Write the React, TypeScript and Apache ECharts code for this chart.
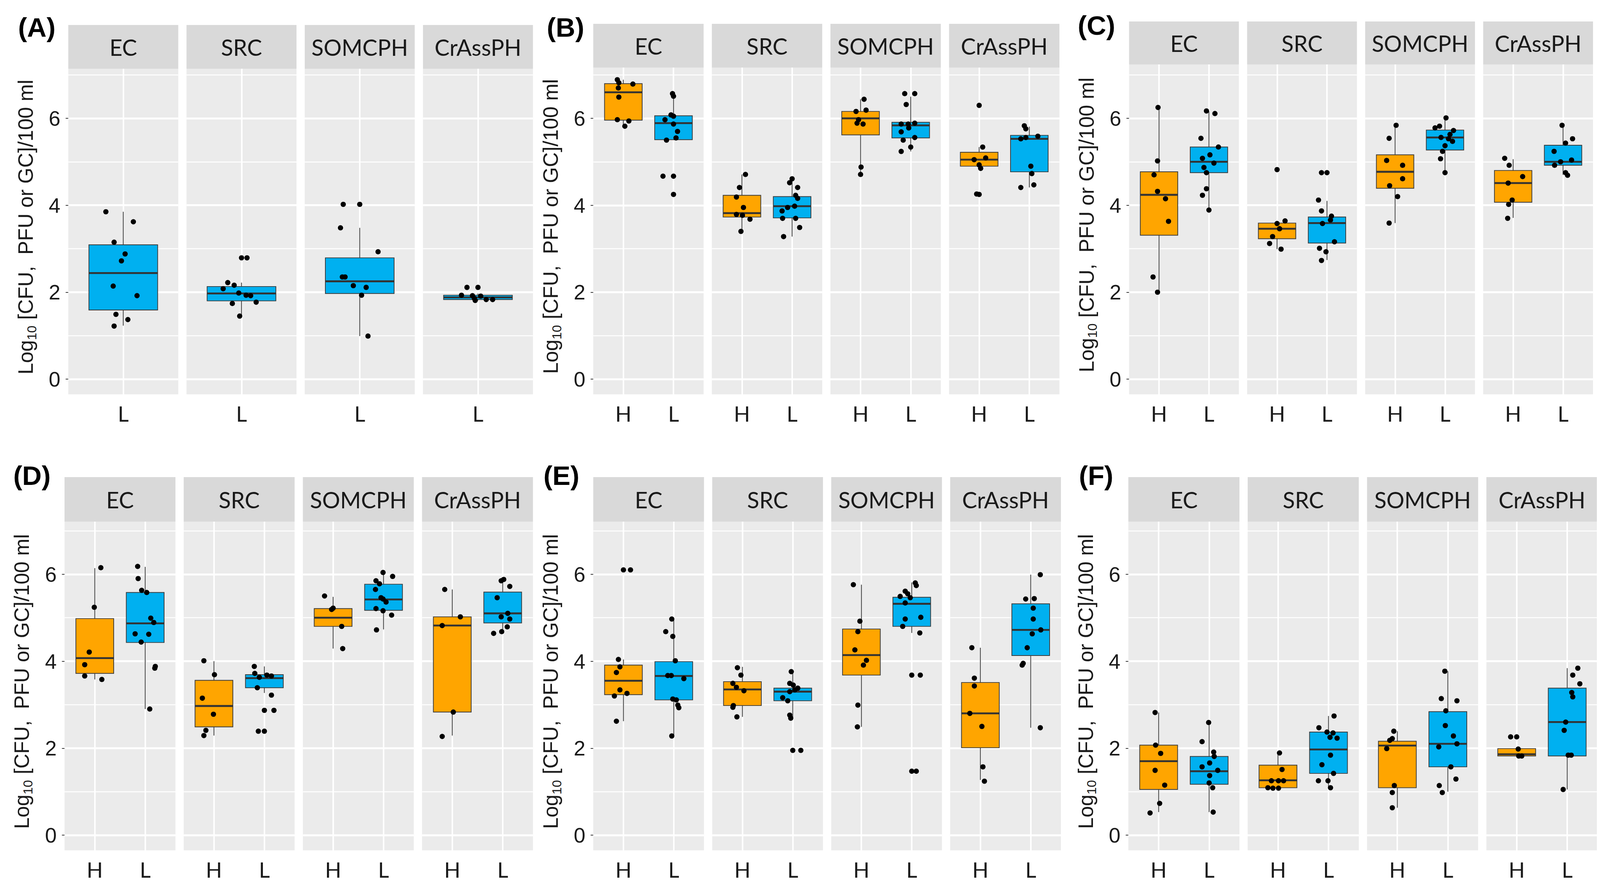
import React, { useEffect, useRef } from 'react';
import * as echarts from 'echarts';

// ---------- categories & ticks ----------
const FACETS = ['EC', 'SRC', 'SOMCPH', 'CrAssPH'];
const GROUPS_ONE = ['L'];
const GROUPS_TWO = ['H', 'L'];
const Y_TICKS = [0, 2, 4, 6];
const PANEL_IDS = ['(A)', '(B)', '(C)', '(D)', '(E)', '(F)'];
const Y_TITLE = '{a|Log}{b|10}{a| [CFU,\u00A0 PFU or GC]/100 ml}';

// ---------- box statistics: per facet, per group: [lower whisker, Q1, median, Q3, upper whisker] ----------
const boxA = [
  [[1.23, 1.59, 2.44, 3.09, 3.85]],
  [[1.44, 1.80, 1.97, 2.13, 2.22]],
  [[0.99, 1.97, 2.25, 2.79, 3.48]],
  [[1.81, 1.83, 1.88, 1.93, 1.97]],
];
const boxB = [
  [[5.82, 5.96, 6.60, 6.80, 6.89], [5.50, 5.51, 5.89, 6.06, 6.57]],
  [[3.40, 3.73, 3.82, 4.23, 4.71], [3.28, 3.71, 3.98, 4.20, 4.61]],
  [[4.71, 5.62, 6.00, 6.16, 6.44], [5.24, 5.55, 5.84, 5.91, 6.50]],
  [[4.85, 4.90, 5.05, 5.22, 5.34], [4.41, 4.77, 5.53, 5.61, 5.81]],
];
const boxC = [
  [[2.00, 3.31, 4.24, 4.77, 6.25], [3.89, 4.75, 5.00, 5.34, 6.16]],
  [[2.99, 3.23, 3.46, 3.59, 3.64], [2.74, 3.13, 3.59, 3.73, 4.10]],
  [[3.59, 4.39, 4.77, 5.16, 5.84], [4.75, 5.27, 5.56, 5.73, 6.03]],
  [[3.71, 4.07, 4.51, 4.80, 5.06], [4.70, 4.92, 5.00, 5.38, 5.84]],
];
const boxD = [
  [[3.58, 3.72, 4.07, 4.98, 6.14], [2.90, 4.43, 4.87, 5.58, 6.17]],
  [[2.29, 2.49, 2.97, 3.56, 4.00], [3.27, 3.39, 3.61, 3.69, 3.88]],
  [[4.29, 4.80, 5.00, 5.21, 5.48], [4.73, 5.17, 5.42, 5.77, 6.03]],
  [[2.29, 2.83, 4.82, 5.02, 5.65], [4.64, 4.88, 5.10, 5.59, 5.92]],
];
const boxE = [
  [[2.62, 3.23, 3.55, 3.91, 4.04], [2.28, 3.11, 3.66, 3.99, 4.97]],
  [[2.72, 2.98, 3.35, 3.53, 3.87], [2.69, 3.09, 3.30, 3.38, 3.77]],
  [[2.49, 3.68, 4.14, 4.74, 5.76], [4.65, 4.80, 5.32, 5.47, 5.81]],
  [[1.27, 2.01, 2.80, 3.51, 4.31], [2.47, 4.13, 4.72, 5.32, 5.99]],
];
const boxF = [
  [[0.53, 1.05, 1.70, 2.07, 2.82], [0.53, 1.17, 1.47, 1.81, 2.59]],
  [[1.08, 1.09, 1.26, 1.61, 1.89], [1.09, 1.42, 1.97, 2.37, 2.74]],
  [[0.63, 1.09, 2.06, 2.16, 2.39], [1.00, 1.57, 2.10, 2.84, 3.77]],
  [[1.82, 1.82, 1.86, 1.99, 1.99], [1.05, 1.82, 2.60, 3.38, 3.84]],
];

// ---------- points: per facet, per group: [horizontal jitter (category units), value] ----------
const ptsA = [
  [[[-0.19, 3.85], [0.11, 3.62], [-0.10, 3.15], [0.02, 2.88], [-0.02, 2.72], [-0.11, 2.14], [0.15, 1.92], [-0.08, 1.49], [0.05, 1.37], [-0.10, 1.22]]],
  [[[0, 2.79], [0.06, 2.79], [-0.15, 2.22], [-0.08, 2.16], [-0.20, 2.08], [-0.03, 1.98], [0.05, 1.93], [0.10, 1.92], [-0.10, 1.74], [0.16, 1.77], [-0.02, 1.45]]],
  [[[-0.18, 4.02], [0, 4.02], [-0.21, 3.48], [0.20, 2.93], [-0.19, 2.35], [-0.16, 2.35], [-0.07, 2.15], [0.07, 2.11], [0.02, 1.93], [0.09, 0.99]]],
  [[[-0.12, 2.11], [0, 2.11], [-0.18, 1.93], [-0.06, 1.92], [-0.04, 1.86], [0.03, 1.91], [-0.03, 1.81], [0.09, 1.83], [0.16, 1.83]]],
];
const ptsB = [
  [
    [[-0.12, 6.89], [-0.09, 6.82], [0.19, 6.79], [-0.10, 6.70], [-0.09, 6.49], [-0.12, 5.97], [0.11, 5.94], [0.03, 5.82]],
    [[-0.02, 6.57], [0, 6.51], [-0.05, 6.08], [0, 6.05], [-0.17, 5.97], [0, 5.87], [0.08, 5.70], [-0.14, 5.50], [0.05, 5.55], [-0.21, 4.67], [0, 4.67], [0, 4.25]],
  ],
  [
    [[0.07, 4.71], [-0.05, 4.41], [-0.11, 4.19], [0.03, 3.95], [-0.11, 3.79], [0.01, 3.77], [0.16, 3.68], [-0.02, 3.40]],
    [[0, 4.61], [-0.05, 4.52], [0.11, 4.41], [0.07, 4.23], [0.11, 4.16], [-0.09, 3.95], [0.05, 3.98], [-0.20, 3.87], [-0.19, 3.70], [0.07, 3.70], [0.15, 3.49], [-0.17, 3.28]],
  ],
  [
    [[0.07, 6.44], [-0.09, 6.16], [0.11, 6.19], [-0.04, 5.97], [0.05, 5.87], [-0.07, 5.89], [0.01, 4.88], [0, 4.71]],
    [[-0.12, 6.57], [0.08, 6.57], [-0.09, 6.32], [-0.19, 5.87], [-0.05, 5.87], [0.08, 5.89], [-0.04, 5.78], [-0.19, 5.69], [0.08, 5.56], [-0.15, 5.50], [0, 5.34], [-0.19, 5.24]],
  ],
  [
    [[0, 6.30], [0.07, 5.34], [-0.10, 5.05], [0.13, 5.09], [0, 4.93], [0.03, 4.85], [-0.05, 4.26], [0, 4.25]],
    [[-0.10, 5.83], [-0.07, 5.76], [-0.17, 5.53], [-0.07, 5.56], [0.17, 5.59], [0.03, 4.90], [0.05, 4.73], [-0.17, 4.41], [0.09, 4.47]],
  ],
];
const ptsC = [
  [
    [[-0.02, 6.25], [-0.03, 5.02], [-0.10, 4.70], [-0.03, 4.32], [0.13, 4.15], [0.19, 3.63], [-0.12, 2.35], [-0.03, 2.00]],
    [[-0.05, 6.17], [0.12, 6.11], [-0.16, 5.54], [0.19, 5.34], [-0.13, 5.08], [0.02, 5.16], [0.10, 4.97], [-0.10, 4.87], [-0.05, 4.75], [-0.05, 4.38], [-0.13, 4.23], [0, 3.89]],
  ],
  [
    [[0, 4.82], [0, 3.58], [0.16, 3.64], [0.05, 3.46], [-0.09, 3.28], [-0.15, 3.12], [0.08, 2.99]],
    [[-0.11, 4.75], [0, 4.75], [-0.17, 4.12], [-0.11, 3.87], [0.09, 3.75], [0.07, 3.66], [-0.09, 3.58], [0.15, 3.16], [-0.15, 3.01], [-0.02, 2.93], [-0.11, 2.73]],
  ],
  [
    [[0.02, 5.84], [-0.12, 5.54], [-0.17, 5.03], [0.15, 4.92], [0.15, 4.61], [-0.11, 4.45], [0.05, 4.20], [-0.12, 3.59]],
    [[0.02, 6.01], [-0.20, 5.78], [-0.11, 5.82], [0.17, 5.72], [0.10, 5.63], [-0.08, 5.56], [0.07, 5.53], [0.15, 5.47], [0, 5.37], [-0.05, 5.24], [-0.09, 5.07], [0, 4.75]],
  ],
  [
    [[-0.17, 5.08], [-0.08, 4.92], [0.19, 4.66], [-0.10, 4.51], [-0.02, 4.12], [-0.09, 4.02], [-0.11, 3.70]],
    [[-0.02, 5.84], [0.19, 5.53], [0.05, 5.43], [-0.18, 5.24], [-0.05, 5.00], [0.17, 5.04], [-0.17, 4.92], [0.05, 4.75], [0.09, 4.69]],
  ],
];
const ptsD = [
  [
    [[0.12, 6.15], [-0.01, 5.24], [-0.11, 4.21], [-0.20, 3.92], [-0.20, 3.66], [0.14, 3.58]],
    [[-0.15, 6.18], [-0.14, 5.90], [-0.07, 5.63], [0.03, 5.58], [0.11, 4.99], [0.17, 4.89], [-0.20, 4.63], [0.07, 4.62], [-0.08, 4.44], [0.20, 3.88], [0.19, 3.84], [0.09, 2.90]],
  ],
  [
    [[-0.20, 4.01], [0.01, 3.69], [-0.23, 3.15], [-0.01, 2.78], [-0.16, 2.41], [-0.20, 2.29]],
    [[-0.20, 3.88], [-0.19, 3.72], [-0.10, 3.63], [0.05, 3.68], [0.14, 3.66], [-0.14, 3.39], [0.14, 3.22], [0, 2.87], [0.19, 2.87], [-0.12, 2.39], [0, 2.39]],
  ],
  [
    [[-0.17, 5.50], [-0.03, 5.19], [0, 5.22], [0.17, 4.80], [0.19, 4.29]],
    [[-0.01, 6.04], [0.18, 5.95], [-0.15, 5.85], [-0.08, 5.78], [-0.16, 5.65], [-0.05, 5.46], [-0.01, 5.43], [0.05, 5.36], [-0.15, 5.21], [-0.01, 5.16], [0.16, 5.06], [-0.14, 4.72]],
  ],
  [
    [[-0.15, 5.65], [0.16, 5.02], [-0.20, 4.82], [0.02, 2.83], [-0.20, 2.27]],
    [[0.02, 5.88], [-0.03, 5.85], [0.14, 5.72], [-0.11, 5.46], [0.10, 5.10], [-0.03, 5.02], [0.14, 4.97], [0.09, 4.79], [-0.18, 4.64], [-0.02, 4.68]],
  ],
];
const ptsE = [
  [
    [[0, 6.10], [0.14, 6.10], [-0.10, 4.04], [-0.07, 3.87], [-0.14, 3.74], [-0.07, 3.34], [0.07, 3.26], [-0.18, 3.20], [-0.14, 2.62]],
    [[-0.04, 4.97], [-0.16, 4.68], [-0.02, 4.57], [0.03, 4.01], [-0.12, 3.67], [-0.05, 3.67], [0.20, 3.60], [-0.02, 3.13], [0.05, 3.11], [0.08, 2.99], [0.10, 2.93], [-0.04, 2.28]],
  ],
  [
    [[-0.10, 3.85], [-0.03, 3.68], [-0.19, 3.49], [-0.12, 3.40], [0.03, 3.32], [-0.18, 2.98], [-0.19, 2.94], [-0.11, 2.72]],
    [[-0.03, 3.76], [-0.06, 3.49], [0.01, 3.45], [0.10, 3.38], [0.04, 3.34], [-0.06, 3.30], [-0.20, 3.16], [-0.10, 3.09], [-0.06, 2.76], [-0.04, 2.69], [0, 1.95], [0.16, 1.95]],
  ],
  [
    [[-0.16, 5.76], [-0.03, 4.92], [-0.07, 4.68], [-0.13, 4.26], [0.10, 4.02], [0.04, 3.91], [-0.07, 2.99], [-0.08, 2.49]],
    [[0.07, 5.80], [0.09, 5.74], [-0.13, 5.61], [-0.08, 5.55], [-0.23, 5.49], [-0.03, 5.46], [-0.13, 5.34], [0.18, 5.01], [-0.13, 4.97], [-0.18, 4.80], [0.16, 4.65], [0.17, 3.68], [0, 3.68], [0, 1.47], [0.09, 1.47]],
  ],
  [
    [[-0.17, 4.31], [-0.12, 3.61], [-0.12, 3.43], [-0.21, 2.80], [0.03, 2.50], [0.05, 1.57], [0.08, 1.24]],
    [[0.19, 5.99], [-0.10, 5.43], [0.07, 5.44], [0.05, 5.22], [0.05, 4.97], [0.03, 4.63], [0.20, 4.72], [-0.07, 4.31], [-0.17, 3.91], [-0.15, 3.95], [0.19, 2.47]],
  ],
];
const ptsF = [
  [
    [[-0.07, 2.82], [-0.06, 2.07], [0.04, 1.88], [-0.07, 1.49], [0.12, 1.15], [0.02, 0.73], [-0.17, 0.51]],
    [[-0.01, 2.59], [-0.14, 2.15], [0.09, 1.91], [0.10, 1.81], [0.01, 1.66], [-0.14, 1.57], [0.17, 1.49], [0.01, 1.37], [0, 1.20], [0.07, 1.09], [0.08, 0.53]],
  ],
  [
    [[0.03, 1.89], [0.08, 1.51], [-0.13, 1.25], [0.01, 1.25], [0.11, 1.25], [-0.20, 1.09], [-0.10, 1.08], [0.01, 1.08]],
    [[0.11, 2.74], [-0.19, 2.47], [-0.03, 2.37], [0.09, 2.35], [0.03, 2.25], [0.17, 2.23], [0.04, 1.84], [-0.13, 1.62], [0.10, 1.42], [-0.20, 1.25], [-0.01, 1.25], [0.04, 1.09]],
  ],
  [
    [[-0.07, 2.39], [-0.10, 2.22], [-0.15, 2.18], [-0.21, 1.99], [-0.06, 1.14], [-0.10, 0.98], [-0.10, 0.63]],
    [[-0.06, 3.77], [-0.13, 3.14], [0.18, 3.09], [-0.04, 2.86], [-0.05, 2.52], [0.11, 2.28], [-0.18, 2.03], [0.18, 2.10], [0.06, 1.57], [0.16, 1.29], [-0.17, 1.14], [-0.11, 0.98]],
  ],
  [
    [[-0.12, 2.26], [0, 2.26], [0.03, 1.98], [0.04, 1.82], [0.10, 1.82]],
    [[0.21, 3.84], [0.11, 3.68], [0.25, 3.48], [0.09, 3.28], [0.11, 3.18], [-0.03, 2.60], [-0.06, 2.41], [0.02, 1.84], [0.08, 1.84], [-0.08, 1.05]],
  ],
];

const PANEL_GROUPS = [GROUPS_ONE, GROUPS_TWO, GROUPS_TWO, GROUPS_TWO, GROUPS_TWO, GROUPS_TWO];
const PANEL_BOXES = [boxA, boxB, boxC, boxD, boxE, boxF];
const PANEL_POINTS = [ptsA, ptsB, ptsC, ptsD, ptsE, ptsF];

// ---------- layout (in reference pixels, 4273 x 2277) & style ----------
const REF_W = 4273;
const REF_H = 2277;
const LAYOUT = [
  { left: 174, right: 1415, top: 168, bottom: 1002, stripTop: 56, yMax: 7.14, labelX: 40, labelY: 62 },
  { left: 1576, right: 2821, top: 165, bottom: 1002, stripTop: 53, yMax: 7.17, labelX: 1452, labelY: 62 },
  { left: 3007, right: 4246, top: 157, bottom: 1002, stripTop: 47, yMax: 7.24, labelX: 2870, labelY: 57 },
  { left: 164, right: 1415, top: 1328, bottom: 2170, stripTop: 1214, yMax: 7.21, labelX: 27, labelY: 1210 },
  { left: 1576, right: 2825, top: 1328, bottom: 2170, stripTop: 1214, yMax: 7.21, labelX: 1443, labelY: 1210 },
  { left: 3005, right: 4258, top: 1328, bottom: 2170, stripTop: 1214, yMax: 7.21, labelX: 2873, labelY: 1210 },
];
const Y_MIN = -0.35;
const GAP = 22;
const BOX_WIDTH = 0.75;
const GROUP_COLORS: Record<string, string> = { H: '#FFA500', L: '#00B0F0' };
const PANEL_BG = '#EBEBEB';
const STRIP_BG = '#D9D9D9';
const TEXT_DARK = '#1A1A1A';
const SANS = 'Liberation Sans, Arial, sans-serif';
const STRIP_FONT = 'Lato, Noto Sans, sans-serif';

function buildOption(W: number, H: number) {
  const kx = W / REF_W;
  const ky = H / REF_H;
  const k = Math.min(kx, ky);
  const X = (v: number) => v * kx;
  const Y = (v: number) => v * ky;
  const S = (v: number) => v * k;

  const grid: any[] = [];
  const xAxis: any[] = [];
  const yAxis: any[] = [];
  const series: any[] = [];
  const graphic: any[] = [];

  LAYOUT.forEach((pl, p) => {
    const groups = PANEL_GROUPS[p];
    const boxes = PANEL_BOXES[p];
    const points = PANEL_POINTS[p];
    const w = (pl.right - pl.left - 3 * GAP) / 4;

    graphic.push({
      type: 'text',
      x: X(pl.labelX),
      y: Y(pl.labelY),
      silent: true,
      style: {
        text: PANEL_IDS[p],
        fontSize: S(72),
        fontWeight: 'bold',
        fontFamily: SANS,
        fill: '#000000',
        align: 'left',
        verticalAlign: 'middle',
      },
    });

    FACETS.forEach((facet, f) => {
      const gi = grid.length;
      const left = pl.left + f * (w + GAP);
      grid.push({
        left: X(left),
        top: Y(pl.top),
        width: X(w),
        height: Y(pl.bottom - pl.top),
        show: true,
        backgroundColor: PANEL_BG,
        borderWidth: 0,
        containLabel: false,
      });

      graphic.push({
        type: 'rect',
        silent: true,
        shape: { x: X(left), y: Y(pl.stripTop), width: X(w), height: Y(pl.top - pl.stripTop) },
        style: { fill: STRIP_BG },
      });
      graphic.push({
        type: 'text',
        silent: true,
        x: X(left + w / 2),
        y: Y((pl.stripTop + pl.top) / 2),
        style: {
          text: facet,
          fontSize: S(60),
          fontFamily: STRIP_FONT,
          fill: TEXT_DARK,
          align: 'center',
          verticalAlign: 'middle',
        },
      });

      const xTicks = groups.map((_, i) => i);
      xAxis.push({
        type: 'value',
        gridIndex: gi,
        min: -0.6,
        max: groups.length - 0.4,
        minInterval: 1,
        maxInterval: 1,
        axisLine: { show: false, onZero: false },
        axisTick: { show: false, customValues: xTicks },
        axisLabel: {
          customValues: xTicks,
          formatter: (v: number) => (Number.isInteger(v) && groups[v] ? groups[v] : ''),
          margin: S(22),
          fontSize: S(57),
          fontFamily: STRIP_FONT,
          color: TEXT_DARK,
        },
        splitLine: { show: true, lineStyle: { color: '#FFFFFF', width: S(4) } },
      });

      yAxis.push({
        type: 'value',
        gridIndex: gi,
        min: Y_MIN,
        max: pl.yMax,
        minInterval: 2,
        maxInterval: 2,
        axisLine: { show: false, onZero: false },
        axisTick: {
          show: f === 0,
          customValues: Y_TICKS,
          length: S(7),
          lineStyle: { color: '#333333', width: S(2) },
        },
        axisLabel: {
          show: f === 0,
          customValues: Y_TICKS,
          formatter: (v: number) => (Y_TICKS.includes(v) ? String(v) : ''),
          margin: S(21),
          fontSize: S(56),
          fontFamily: SANS,
          color: TEXT_DARK,
        },
        splitLine: { show: true, lineStyle: { color: '#FFFFFF', width: S(5) } },
        minorTick: { show: false, splitNumber: 2 },
        minorSplitLine: { show: true, lineStyle: { color: '#FFFFFF', width: S(2.5) } },
        name: f === 0 ? Y_TITLE : '',
        nameLocation: 'middle',
        nameRotate: 90,
        nameGap: S(80),
        nameTextStyle: {
          fontFamily: SANS,
          color: TEXT_DARK,
          padding: [0, 0, 0, S(24)],
          rich: {
            a: { fontSize: S(55), fontFamily: SANS, color: TEXT_DARK, lineHeight: S(68), verticalAlign: 'middle' },
            b: { fontSize: S(35), fontFamily: SANS, color: TEXT_DARK, lineHeight: S(34), verticalAlign: 'bottom' },
          },
        },
      });

      const boxData = groups.map((_, gIdx) => [gIdx, ...boxes[f][gIdx]]);
      series.push({
        type: 'custom',
        xAxisIndex: gi,
        yAxisIndex: gi,
        z: 2,
        silent: true,
        data: boxData,
        encode: { x: 0, y: [1, 2, 3, 4, 5] },
        renderItem: (_params: any, api: any) => {
          const gIdx = api.value(0);
          const lo = api.coord([gIdx, api.value(1)]);
          const q1 = api.coord([gIdx, api.value(2)]);
          const md = api.coord([gIdx, api.value(3)]);
          const q3 = api.coord([gIdx, api.value(4)]);
          const hi = api.coord([gIdx, api.value(5)]);
          const half = api.size([BOX_WIDTH, 0])[0] / 2;
          const cx = md[0];
          const fill = GROUP_COLORS[groups[gIdx]];
          return {
            type: 'group',
            children: [
              { type: 'line', shape: { x1: cx, y1: lo[1], x2: cx, y2: q1[1] }, style: { stroke: '#555555', lineWidth: S(2.5) } },
              { type: 'line', shape: { x1: cx, y1: q3[1], x2: cx, y2: hi[1] }, style: { stroke: '#555555', lineWidth: S(2.5) } },
              {
                type: 'rect',
                shape: { x: cx - half, y: q3[1], width: half * 2, height: q1[1] - q3[1] },
                style: { fill, stroke: '#3A3A3A', lineWidth: S(2) },
              },
              { type: 'line', shape: { x1: cx - half, y1: md[1], x2: cx + half, y2: md[1] }, style: { stroke: '#333333', lineWidth: S(5) } },
            ],
          };
        },
      });

      const ptData: number[][] = [];
      groups.forEach((_, gIdx) => {
        points[f][gIdx].forEach(([dx, y]) => ptData.push([gIdx + dx, y]));
      });
      series.push({
        type: 'scatter',
        xAxisIndex: gi,
        yAxisIndex: gi,
        z: 3,
        silent: true,
        symbol: 'circle',
        symbolSize: S(14),
        itemStyle: { color: '#000000', opacity: 1 },
        data: ptData,
      });
    });
  });

  return {
    animation: false,
    backgroundColor: '#FFFFFF',
    textStyle: { fontFamily: SANS },
    tooltip: { show: false },
    grid,
    xAxis,
    yAxis,
    series,
    graphic,
  };
}

export default function App() {
  const ref = useRef<HTMLDivElement>(null);
  useEffect(() => {
    const el = ref.current;
    if (!el) return;
    const W = el.clientWidth || window.innerWidth;
    const H = el.clientHeight || window.innerHeight;
    const chart = echarts.init(el, undefined, { renderer: 'svg', width: W, height: H });
    chart.setOption(buildOption(W, H));
    return () => chart.dispose();
  }, []);
  return (
    <div
      ref={ref}
      style={{ position: 'fixed', left: 0, top: 0, width: '100vw', height: '100vh', background: '#FFFFFF', overflow: 'hidden' }}
    />
  );
}
